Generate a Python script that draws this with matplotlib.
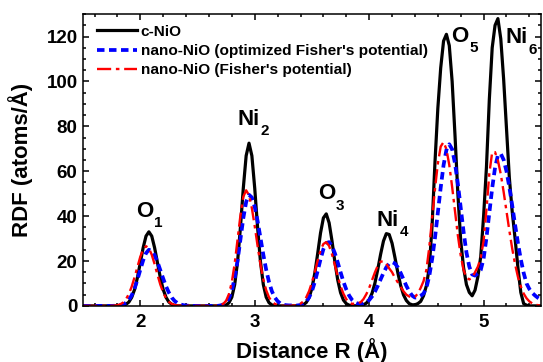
import numpy as np
import matplotlib
matplotlib.use('Agg')
import matplotlib.pyplot as plt
from matplotlib.ticker import MultipleLocator

# distance grid, 0.025 A step from 1.5 to 5.5
r = np.round(1.5 + 0.025 * np.arange(161), 3)

c_nio = [
    0, 0, 0, 0, 0, 0, 0, 0,
    0, 0, 0, 0, 0, 0, 0.25, 0.7,
    1.7, 3.8, 7.3, 12.6, 19.2, 25.9, 31.1, 33.0,
    31.1, 25.9, 19.2, 12.6, 7.3, 3.8, 1.7, 0.7,
    0.25, 0, 0, 0, 0, 0, 0, 0,
    0, 0, 0, 0, 0, 0, 0, 0,
    0, 0.1, 0.4, 1.4, 3.9, 9.5, 19.7, 34.9,
    52.4, 66.9, 72.5, 66.9, 52.4, 34.9, 19.7, 9.5,
    3.9, 1.4, 0.4, 0.1, 0, 0, 0, 0,
    0, 0, 0, 0.1, 0.2, 0.5, 1.5, 3.7,
    7.9, 14.6, 23.3, 32.5, 39.2, 41.0, 37.0, 29.0,
    19.7, 11.6, 5.9, 2.6, 1.0, 0.3, 0.1, 0.05,
    0.1, 0.2, 0.5, 1.2, 2.8, 5.6, 10.1, 16.2,
    23.0, 28.9, 32.2, 31.8, 27.9, 21.6, 14.9, 9.1,
    4.9, 2.4, 1.0, 0.5, 0.5, 1.0, 2.0, 4.5,
    9.0, 17.0, 36.0, 64.0, 88.0, 106.0, 118.0, 121.0,
    116.0, 100.0, 76.0, 50.0, 29.0, 17.0, 9.5, 6.0,
    4.5, 7.0, 13.0, 22.0, 40.0, 62.0, 92.0, 115.0,
    125.0, 128.0, 119.0, 101.0, 79.0, 57.0, 42.0, 30.0,
    17.0, 6.0, 1.0, 0.3, 0, 0, 0, 0,
    0,
]

nano_opt = [
    0, 0, 0, 0, 0, 0, 0, 0,
    0, 0, 0, 0.05, 0.1, 0.3, 0.6, 1.4,
    2.7, 4.7, 7.8, 11.7, 16.1, 20.3, 23.5, 25.0,
    24.5, 22.6, 19.6, 15.9, 12.2, 8.7, 5.9, 3.7,
    2.2, 1.25, 0.65, 0.33, 0.15, 0.07, 0, 0,
    0, 0, 0, 0, 0, 0, 0, 0,
    0.2, 0.6, 1.5, 3.4, 6.9, 12.4, 20.2, 29.6,
    39.1, 46.3, 49.5, 48.3, 44.1, 37.8, 30.3, 22.8,
    16.1, 10.6, 6.5, 3.8, 2.1, 1.05, 0.5, 0.3,
    0.2, 0.2, 0.2, 0.2, 0.4, 0.9, 1.9, 3.8,
    6.6, 10.7, 15.6, 20.8, 25.3, 28.0, 28.4, 26.7,
    23.5, 19.4, 15.0, 10.8, 7.3, 4.6, 2.7, 1.6,
    1.0, 0.9, 1.1, 1.6, 2.6, 4.2, 6.3, 8.9,
    11.8, 14.7, 17.2, 18.9, 19.5, 18.9, 17.2, 14.7,
    11.8, 8.9, 6.5, 4.6, 3.7, 3.8, 4.5, 5.5,
    8.0, 13.3, 20.8, 30.3, 41.3, 52.7, 62.7, 69.5,
    72.0, 69.8, 63.5, 54.4, 43.7, 33.0, 23.8, 17.5,
    14.0, 13.5, 14.5, 16.0, 21.1, 30.4, 41.5, 52.5,
    61.6, 67.1, 67.8, 65.1, 60.0, 52.9, 44.7, 36.1,
    28.0, 20.7, 14.7, 10.0, 7.5, 5.8, 4.6, 3.6,
    2.8,
]

nano_fisher = [
    0, 0, 0, 0, 0, 0, 0, 0,
    0, 0, 0.05, 0.1, 0.3, 0.7, 1.5, 3.0,
    5.3, 8.6, 12.8, 17.4, 21.9, 25.2, 26.6, 25.7,
    22.8, 18.6, 13.9, 9.5, 6.0, 3.4, 1.8, 0.9,
    0.4, 0.2, 0.1, 0, 0, 0, 0, 0,
    0, 0, 0, 0, 0, 0, 0, 0.1,
    0.3, 0.9, 2.3, 5.3, 10.7, 18.9, 29.5, 40.3,
    48.6, 51.5, 49.3, 43.5, 35.5, 26.7, 18.5, 11.8,
    7.0, 3.8, 1.9, 0.9, 0.4, 0.1, 0, 0,
    0, 0.1, 0.2, 0.4, 1.0, 2.0, 3.8, 6.6,
    10.5, 15.2, 20.2, 24.7, 27.6, 28.4, 26.7, 23.0,
    18.2, 13.2, 8.8, 5.4, 3.0, 1.6, 0.9, 1.0,
    1.3, 1.6, 3.0, 5.2, 8.0, 11.4, 14.9, 17.9,
    19.7, 19.9, 18.8, 16.7, 15.0, 12.5, 10.5, 8.5,
    6.5, 5.0, 4.2, 3.8, 4.0, 5.5, 8.0, 11.0,
    16.0, 26.0, 39.0, 52.0, 63.4, 71.0, 73.0, 69.8,
    62.8, 53.0, 42.0, 31.4, 22.5, 16.0, 12.5, 11.8,
    12.5, 15.0, 17.5, 21.5, 29.0, 43.0, 59.0, 68.5,
    68.5, 64.8, 58.7, 50.8, 42.2, 33.5, 25.5, 18.6,
    12.9, 8.7, 5.5, 3.4, 2.0, 1.1, 0.6, 0.3,
    0.15,
]

peak_atoms = ['O', 'Ni', 'O', 'Ni', 'O', 'Ni']
peak_index = ['1', '2', '3', '4', '5', '6']
name_x = [1.96, 2.85, 3.55, 4.06, 4.715, 5.19]
name_y = [39.6, 80.6, 47.5, 35.5, 117.7, 117.0]

plt.rcParams['font.family'] = ['Liberation Sans', 'DejaVu Sans']
plt.rcParams['font.weight'] = 'bold'

fig = plt.figure(figsize=(5.43, 3.62), dpi=100)
ax = fig.add_axes([0.153, 0.155, 0.843, 0.806])

ax.plot(r, c_nio, color='black', lw=2.3, label='c-NiO')
ax.plot(r, nano_opt, color='#0000ff', lw=2.7, ls=(0, (2.0, 1.2)),
        label="nano-NiO (optimized Fisher's potential)")
ax.plot(r, nano_fisher, color='#ff0000', lw=1.7, ls=(0, (6, 2, 1.5, 2)),
        label="nano-NiO (Fisher's potential)")

for atom, idx, x, y in zip(peak_atoms, peak_index, name_x, name_y):
    t = ax.text(x, y, atom, fontsize=16, fontweight='bold', ha='left', va='baseline')
    ax.annotate(idx, xy=(1.0, 0.0), xycoords=t, xytext=(0.8, -3.8),
                textcoords='offset points', fontsize=11, fontweight='bold',
                ha='left', va='baseline')

ax.set_xlim(1.5, 5.5)
ax.set_ylim(0, 130)
ax.xaxis.set_major_locator(MultipleLocator(1))
ax.xaxis.set_minor_locator(MultipleLocator(0.2))
ax.yaxis.set_major_locator(MultipleLocator(20))
ax.yaxis.set_minor_locator(MultipleLocator(5))
ax.tick_params(which='both', direction='in', top=True, right=True, width=1.1)
ax.tick_params(which='major', length=4.5, labelsize=13.5)
ax.tick_params(axis='x', which='major', pad=6)
ax.tick_params(axis='y', which='major', pad=4)
ax.tick_params(which='minor', length=2.5)
for s in ax.spines.values():
    s.set_linewidth(1.1)

ax.set_xlabel('Distance R (Å)', fontsize=16, fontweight='bold', labelpad=5)
ax.set_ylabel('RDF (atoms/Å)', fontsize=16, fontweight='bold', labelpad=9.5)

ax.legend(loc='upper left', bbox_to_anchor=(0.011, 0.9955), frameon=False,
          fontsize=11.1, handlelength=2.6, handletextpad=0.2, labelspacing=0.35,
          borderaxespad=0.3, borderpad=0.3)

fig.savefig('out.png', dpi=100)
